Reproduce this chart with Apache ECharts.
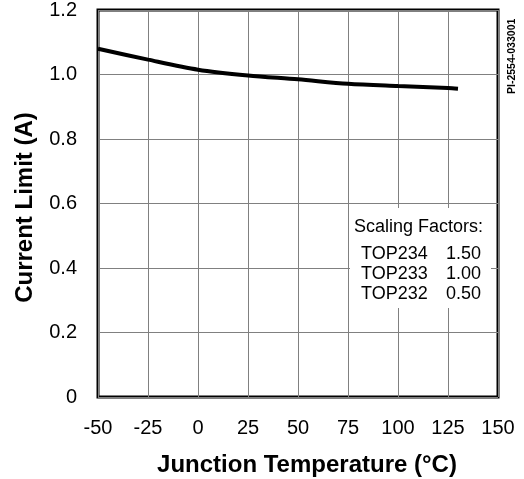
<!DOCTYPE html>
<html>
<head>
<meta charset="utf-8">
<script src="https://cdn.jsdelivr.net/npm/echarts@6/dist/echarts.min.js"></script>
<style>html,body{margin:0;padding:0;background:#fff;}#c{width:524px;height:479px;}</style>
</head>
<body>
<div id="c"></div>
<script>
// Data
var temps = [-50, -25, 0, 25, 50, 75, 100, 125, 130];
var currentLimit = [1.080, 1.046, 1.015, 0.997, 0.985, 0.971, 0.964, 0.958, 0.956];
var xTicks = [-50, -25, 0, 25, 50, 75, 100, 125, 150];
var yTicks = [0, 0.2, 0.4, 0.6, 0.8, 1.0, 1.2];
var parts = ['TOP234', 'TOP233', 'TOP232'];
var factors = ['1.50', '1.00', '0.50'];
var scalingTitle = 'Scaling Factors:';
var docId = 'PI-2554-033001';

var FONT = 'Liberation Sans, Arial, Helvetica, sans-serif';
var chart = echarts.init(document.getElementById('c'), null, {renderer: 'canvas'});

var pts = temps.map(function (t, i) { return [t, currentLimit[i]]; });

var graphics = [
  {type: 'rect', z: 10, shape: {x: 350, y: 208, width: 141, height: 100}, style: {fill: '#fff'}},
  {type: 'text', z: 11, left: 354, top: 218, style: {text: scalingTitle, font: '18px ' + FONT, fill: '#000'}}
];
parts.forEach(function (p, i) {
  graphics.push({type: 'text', z: 11, left: 361, top: 245 + i * 20, style: {text: p, font: '18px ' + FONT, fill: '#000'}});
  graphics.push({type: 'text', z: 11, left: 446, top: 245 + i * 20, style: {text: factors[i], font: '18px ' + FONT, fill: '#000'}});
});
graphics.push({type: 'text', z: 11, rotation: Math.PI / 2, x: 507, y: 94,
  style: {text: docId, font: 'bold 10.5px ' + FONT, fill: '#000'}});

chart.setOption({
  animation: false,
  backgroundColor: '#fff',
  grid: {left: 98, right: 26, top: 10, bottom: 82, show: true, borderColor: '#000', borderWidth: 3,
    containLabel: false, outerBoundsMode: 'none'},
  xAxis: {
    type: 'value', min: -50, max: 150, interval: 25,
    axisLine: {show: false}, axisTick: {show: false},
    splitLine: {show: true, lineStyle: {color: '#808080', width: 1}},
    axisLabel: {margin: 21, fontSize: 20, color: '#000', fontFamily: FONT,
      formatter: function (v) { return xTicks.indexOf(v) >= 0 ? String(v) : ''; }},
    name: 'Junction Temperature (\u00B0C)', nameLocation: 'middle', nameGap: 56,
    nameTextStyle: {fontSize: 24, fontWeight: 'bold', color: '#000', fontFamily: FONT, padding: [0, 0, 0, 18]}
  },
  yAxis: {
    type: 'value', min: 0, max: 1.2, interval: 0.2,
    axisLine: {show: false}, axisTick: {show: false},
    splitLine: {show: true, lineStyle: {color: '#808080', width: 1}},
    axisLabel: {margin: 21, fontSize: 20, color: '#000', fontFamily: FONT,
      formatter: function (v) {
        var t = yTicks.filter(function (y) { return Math.abs(y - v) < 1e-6; });
        if (!t.length) return '';
        return v === 0 ? '0' : t[0].toFixed(1);
      }},
    name: 'Current Limit (A)', nameLocation: 'middle', nameGap: 61,
    nameTextStyle: {fontSize: 24, fontWeight: 'bold', color: '#000', fontFamily: FONT, padding: [0, 8, 0, 0]}
  },
  series: [{
    type: 'line', data: pts, smooth: 0.3, symbol: 'none',
    lineStyle: {color: '#000', width: 4}, z: 5
  }],
  graphic: graphics
});
</script>
</body>
</html>
